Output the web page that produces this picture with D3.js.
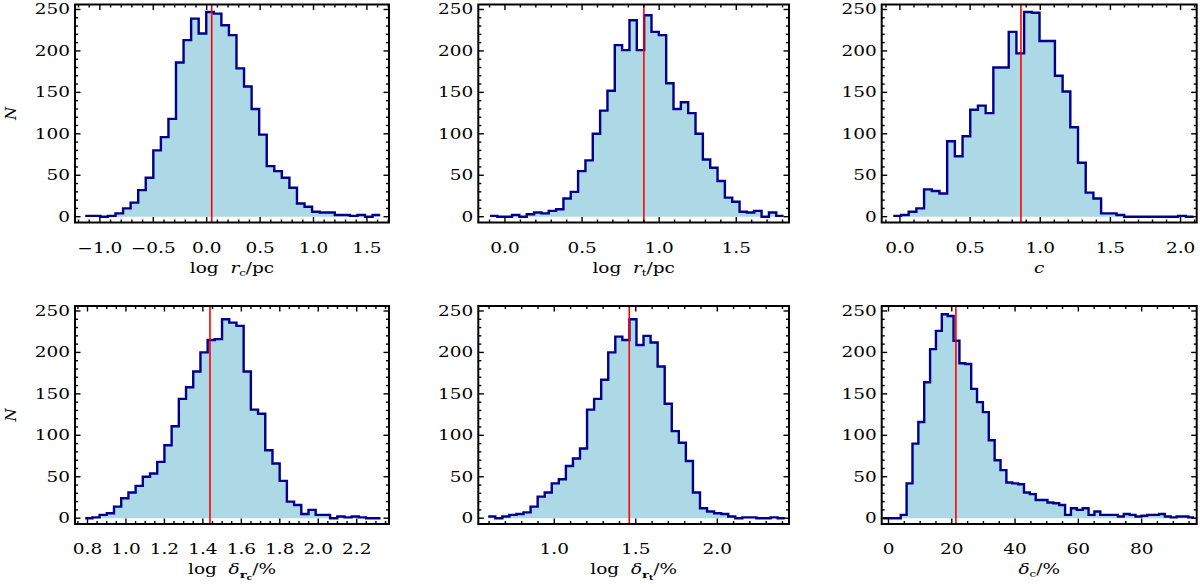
<!DOCTYPE html>
<html>
<head>
<meta charset="utf-8">
<script src="https://d3js.org/d3.v7.min.js"></script>
<style>
  body { margin: 0; background: #fff; }
  svg { display: block; }
</style>
</head>
<body>
<div id="chart"></div>
<script>
// bin counts, one array per panel
const rcStart = -1.137
const rcWidth = 0.0708
const rcCounts = [1, 1, 0, 1, 4, 10, 17, 32, 47, 80, 96, 118, 186, 213, 239, 221, 247, 245, 231, 219,
  179, 157, 130, 99, 61, 55, 47, 35, 16, 12, 6, 5, 5, 2, 2, 1, 2, 0, 2]

const rtStart = -0.097
const rtWidth = 0.0476
const rtCounts = [1, 0, 0, 2, 0, 3, 5, 4, 7, 9, 22, 30, 55, 68, 100, 128, 152, 207, 201, 237,
  201, 243, 223, 219, 161, 130, 138, 125, 100, 69, 59, 43, 23, 18, 6, 5, 7, 0, 5, 1]

const cStart = -0.0475
const cWidth = 0.05486
const cCounts = [1, 2, 6, 10, 33, 31, 28, 91, 73, 97, 129, 134, 125, 180, 180, 223, 197, 247, 246, 212,
  212, 170, 151, 108, 65, 29, 22, 4, 4, 2, 0, 0, 0, 0, 0, 0, 0, 1, 0]

const drcStart = 0.788
const drcWidth = 0.03746
const drcCounts = [0, 1, 4, 6, 14, 24, 31, 39, 50, 54, 68, 88, 111, 144, 158, 177, 200, 215, 216, 240,
  236, 232, 177, 131, 126, 82, 66, 45, 20, 16, 5, 10, 4, 4, 0, 2, 1, 2, 1, 0, 0]

const drtStart = 0.595
const drtWidth = 0.0433
const drtCounts = [2, 0, 2, 4, 5, 7, 14, 26, 31, 42, 47, 63, 72, 84, 131, 144, 167, 200, 219, 215,
  240, 209, 220, 212, 183, 138, 105, 91, 69, 31, 12, 8, 6, 5, 2, 0, 1, 1, 0, 0, 1, 0]

const dcStart = -1.7
const dcWidth = 1.855
const dcCounts = [0, 0, 0, 4, 42, 90, 116, 164, 204, 226, 246, 244, 214, 187, 186, 156, 140, 128, 94, 70,
  58, 43, 42, 41, 31, 29, 22, 22, 19, 18, 16, 4, 12, 10, 12, 4, 8, 4, 4, 4,
  2, 5, 4, 2, 3, 4, 4, 5, 2, 1, 2, 2, 1]

// best values (red lines)
const bestValues = [0.047, 0.901, 0.8625, 1.437, 1.46, 21.3]

// axis ranges and tick labels
const xDomains = [[-1.233, 1.707], [-0.173, 1.842], [-0.13, 2.115], [0.735, 2.368], [0.534, 2.44], [-2.15, 97.4]]
const xMajorTicks = [
  [-1.0, -0.5, 0.0, 0.5, 1.0, 1.5],
  [0.0, 0.5, 1.0, 1.5],
  [0.0, 0.5, 1.0, 1.5, 2.0],
  [0.8, 1.0, 1.2, 1.4, 1.6, 1.8, 2.0, 2.2],
  [1.0, 1.5, 2.0],
  [0, 20, 40, 60, 80]
]
const xMinorSteps = [0.1, 0.1, 0.1, 0.05, 0.1, 5]
const xFormats = ['.1f', '.1f', '.1f', '.1f', '.1f', 'd']
const yDomain = [-7, 256]
const yMajorTicks = [0, 50, 100, 150, 200, 250]
const yMinorStep = 10

// layout
const width = 1200
const height = 587
const colLeft = [75, 478.3, 881.7]
const colRight = [389, 789, 1196.7]
const rowTop = [4.5, 306]
const boxHeight = 218
const fontFamily = '"DejaVu Serif", "Liberation Serif", serif'
const fontSize = 14
const stretch = 1.32

const panels = [
  { start: rcStart, width: rcWidth, counts: rcCounts },
  { start: rtStart, width: rtWidth, counts: rtCounts },
  { start: cStart, width: cWidth, counts: cCounts },
  { start: drcStart, width: drcWidth, counts: drcCounts },
  { start: drtStart, width: drtWidth, counts: drtCounts },
  { start: dcStart, width: dcWidth, counts: dcCounts }
].map((p, i) => ({
  ...p,
  best: bestValues[i],
  domain: xDomains[i],
  majors: xMajorTicks[i],
  minorStep: xMinorSteps[i],
  format: xFormats[i]
}))

const svg = d3.select('#chart')
  .append('svg')
  .attr('width', width)
  .attr('height', height)
  .attr('viewBox', `0 0 ${width} ${height}`)

function minorTicks (domain, step, majors) {
  const out = []
  const first = Math.ceil(domain[0] / step - 1e-9)
  const last = Math.floor(domain[1] / step + 1e-9)
  for (let k = first; k <= last; k++) {
    const v = k * step
    if (!majors.some(m => Math.abs(m - v) < step * 0.01)) out.push(v)
  }
  return out
}

function fmt (f) {
  const base = d3.format(f)
  return v => base(v).replace('-', '\u2212')
}

// titles built from tspans (roman / italic / subscripts)
function writeTitle (text, i) {
  const add = (s, opts = {}) => {
    const t = text.append('tspan').text(s)
    if (opts.italic) t.attr('font-style', 'italic')
    if (opts.bold) t.attr('font-weight', 'bold')
    if (opts.size) t.attr('font-size', opts.size)
    if (opts.dy) t.attr('dy', opts.dy)
    return t
  }
  if (i === 0 || i === 1) {
    add('log\u00a0\u00a0')
    add('r', { italic: true })
    add(i === 0 ? 'c' : 't', { size: 9, dy: 3 })
    add('/pc', { dy: -3 })
  } else if (i === 2) {
    add('c', { italic: true })
  } else if (i === 3 || i === 4) {
    add('log\u00a0\u00a0')
    add('\u03b4', { italic: true })
    add('r', { size: 10, bold: true, dy: 4 })
    add(i === 3 ? 'c' : 't', { size: 7, bold: true, dy: 2 })
    add('/%', { dy: -6 })
  } else {
    add('\u03b4', { italic: true })
    add('c', { size: 9, dy: 3 })
    add('/%', { dy: -3 })
  }
}

function drawPanel (p, i) {
  const col = i % 3
  const row = Math.floor(i / 3)
  const left = colLeft[col]
  const right = colRight[col]
  const top = rowTop[row]
  const bottom = top + boxHeight

  const x = d3.scaleLinear().domain(p.domain).range([left, right])
  const y = d3.scaleLinear().domain(yDomain).range([bottom, top])

  const bins = p.counts.map((n, k) => ({ x0: p.start + k * p.width, n }))
  bins.push({ x0: p.start + p.counts.length * p.width, n: p.counts[p.counts.length - 1] })

  const g = svg.append('g').attr('class', 'panel')

  g.append('path')
    .attr('d', d3.area().curve(d3.curveStepAfter)
      .x(d => x(d.x0)).y0(y(0)).y1(d => y(d.n))(bins))
    .attr('fill', '#add8e6')

  g.append('path')
    .attr('d', d3.line().curve(d3.curveStepAfter)
      .x(d => x(d.x0)).y(d => y(d.n))(bins))
    .attr('fill', 'none')
    .attr('stroke', '#00008b')
    .attr('stroke-width', 2.4)
    .attr('stroke-linejoin', 'miter')

  g.append('line')
    .attr('x1', x(p.best)).attr('x2', x(p.best))
    .attr('y1', top).attr('y2', bottom)
    .attr('stroke', '#ff0000')
    .attr('stroke-width', 1.6)

  // ticks on all four sides, pointing inward
  const major = 5.5
  const minor = 3
  const tickG = g.append('g').attr('stroke', '#000').attr('stroke-width', 1.4)
  const xMinor = minorTicks(p.domain, p.minorStep, p.majors)
  const yMinor = minorTicks(yDomain, yMinorStep, yMajorTicks)
  const xTicks = p.majors.map(v => [v, major]).concat(xMinor.map(v => [v, minor]))
  const yTicks = yMajorTicks.map(v => [v, major]).concat(yMinor.map(v => [v, minor]))

  xTicks.forEach(([v, len]) => {
    tickG.append('line').attr('x1', x(v)).attr('x2', x(v)).attr('y1', bottom).attr('y2', bottom - len)
    tickG.append('line').attr('x1', x(v)).attr('x2', x(v)).attr('y1', top).attr('y2', top + len)
  })
  yTicks.forEach(([v, len]) => {
    tickG.append('line').attr('x1', left).attr('x2', left + len).attr('y1', y(v)).attr('y2', y(v))
    tickG.append('line').attr('x1', right).attr('x2', right - len).attr('y1', y(v)).attr('y2', y(v))
  })

  g.append('rect')
    .attr('x', left).attr('y', top)
    .attr('width', right - left).attr('height', boxHeight)
    .attr('fill', 'none')
    .attr('stroke', '#000')
    .attr('stroke-width', 2)

  // tick labels
  const f = fmt(p.format)
  p.majors.forEach(v => {
    g.append('text')
      .attr('transform', `translate(${x(v)},${bottom + 30}) scale(${stretch},1)`)
      .attr('text-anchor', 'middle')
      .attr('font-family', fontFamily)
      .attr('font-size', fontSize)
      .text(f(v))
  })
  yMajorTicks.forEach(v => {
    g.append('text')
      .attr('transform', `translate(${left - 5},${y(v) + 5}) scale(${stretch},1)`)
      .attr('text-anchor', 'end')
      .attr('font-family', fontFamily)
      .attr('font-size', fontSize)
      .text(v)
  })

  const title = g.append('text')
    .attr('transform', `translate(${(left + right) / 2},${bottom + 50}) scale(${stretch},1)`)
    .attr('text-anchor', 'middle')
    .attr('font-family', fontFamily)
    .attr('font-size', fontSize)
  writeTitle(title, i)

  if (col === 0) {
    g.append('text')
      .attr('transform', `translate(16,${(top + bottom) / 2}) rotate(-90)`)
      .attr('text-anchor', 'middle')
      .attr('font-family', fontFamily)
      .attr('font-style', 'italic')
      .attr('font-size', 15)
      .text('N')
  }
}

panels.forEach(drawPanel)
</script>
</body>
</html>
